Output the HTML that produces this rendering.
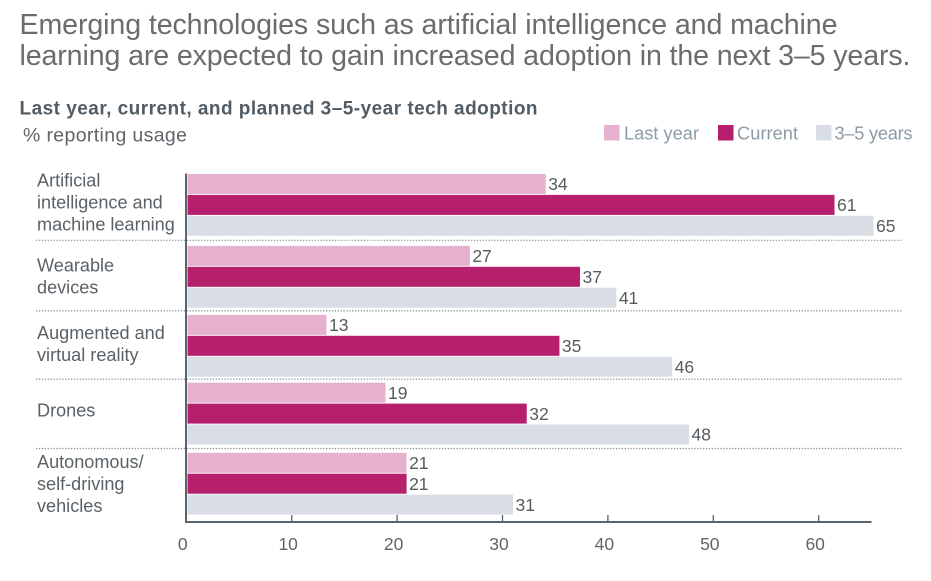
<!DOCTYPE html>
<html lang="en">
<head>
<meta charset="utf-8">
<title>Emerging technology adoption</title>
<style>
html,body{margin:0;padding:0;background:#fff;width:931px;height:581px;overflow:hidden}
svg{display:block;font-family:"Liberation Sans",Arial,sans-serif}
</style>
</head>
<body>
<svg id="chart" width="931" height="581" viewBox="0 0 931 581" xmlns="http://www.w3.org/2000/svg">
  <rect width="931" height="581" fill="#ffffff"/>
  <text x="19.5" y="34" font-size="28.6" fill="#6b6c6f" textLength="818" lengthAdjust="spacing">Emerging technologies such as artificial intelligence and machine</text>
  <text x="19.5" y="65" font-size="28.6" fill="#6b6c6f" textLength="891" lengthAdjust="spacing">learning are expected to gain increased adoption in the next 3–5 years.</text>
  <text x="19.5" y="114.5" font-size="19" font-weight="bold" fill="#515c64" textLength="518" lengthAdjust="spacing">Last year, current, and planned 3–5-year tech adoption</text>
  <text x="23" y="141.5" font-size="19.5" fill="#5f656a" textLength="164" lengthAdjust="spacing">% reporting usage</text>

  <g>
    <rect x="604" y="125" width="15.5" height="15.5" fill="#e6b1cd"/>
    <text x="624" y="139.5" font-size="18.2" fill="#8c9ca6" textLength="75" lengthAdjust="spacing">Last year</text>
    <rect x="718" y="125" width="15.5" height="15.5" fill="#b51f6b"/>
    <text x="737" y="139.5" font-size="18.2" fill="#8c9ca6" textLength="61" lengthAdjust="spacing">Current</text>
    <rect x="816" y="125" width="15.5" height="15.5" fill="#d8dee3"/>
    <text x="834.5" y="139.5" font-size="18.2" fill="#8c9ca6" textLength="78" lengthAdjust="spacing">3–5 years</text>
  </g>

  <g id="separators"></g>
  <g id="bars"></g>
  <g id="value-labels"></g>
  <g id="category-labels"></g>
  <g id="ticks"></g>

  <line x1="186" y1="173.5" x2="186" y2="522.5" stroke="#5a646c" stroke-width="2"/>
  <line x1="185" y1="522" x2="871.5" y2="522" stroke="#5a646c" stroke-width="2"/>
</svg>

<script>
// Chart data
const categories = [
  ['Artificial', 'intelligence and', 'machine learning'],
  ['Wearable', 'devices'],
  ['Augmented and', 'virtual reality'],
  ['Drones'],
  ['Autonomous/', 'self-driving', 'vehicles']
];
// Bar lengths as drawn in the picture
const lastYear = [34.1, 26.9, 13.3, 18.9, 20.9];
const current = [61.5, 37.35, 35.4, 32.3, 20.9];
const threeToFive = [65.2, 40.8, 46.1, 47.7, 31];
// Values as printed beside the bars
const lastYearLabels = [34, 27, 13, 19, 21];
const currentLabels = [61, 37, 35, 32, 21];
const threeToFiveLabels = [65, 41, 46, 48, 31];
const xTicks = [0, 10, 20, 30, 40, 50, 60];

const SVG_NS = 'http://www.w3.org/2000/svg';
const seriesList = [
  { key: 'last-year', values: lastYear, labels: lastYearLabels, fill: '#e6b1cd' },
  { key: 'current', values: current, labels: currentLabels, fill: '#b51f6b' },
  { key: '3-5-years', values: threeToFive, labels: threeToFiveLabels, fill: '#d8dee3' }
];

// Axis functions
function xScale(v) { return 186.3 + v * 10.54; }
function groupTop(i) { return 174 + i * 69.7 + [0, 2.2, 1.5, -0.4, 0][i]; }
function barTop(i, s) { return groupTop(i) + s * 20.9; }
function labelBaseline(i, n, count) {
  const mid = groupTop(i) + 31 + [3.5, 5.5, 4.2, 2.7, 6.3][i];
  return mid + (n - (count - 1) / 2) * 21.9;
}
function separatorY(i) { return 240.3 + i * 69.4 + [0, 1.2, 0, 0][i]; }
const BAR_HEIGHT = 20;

function make(tag, parent, attrs) {
  const el = document.createElementNS(SVG_NS, tag);
  Object.keys(attrs).forEach(function (k) { el.setAttribute(k, attrs[k]); });
  parent.appendChild(el);
  return el;
}

const barsG = document.getElementById('bars');


const valuesG = document.getElementById('value-labels');


const catsG = document.getElementById('category-labels');


const ticksG = document.getElementById('ticks');


const sepG = document.getElementById('separators');



categories.forEach(function (lines, i) {
  seriesList.forEach(function (series, s) {
    const y = barTop(i, s);
    const rect = make('rect', barsG, {
      x: 187.5,
      y: y,
      width: Math.max(0, xScale(series.values[i]) - 187.5),
      height: BAR_HEIGHT,
      fill: series.fill
    });
    
    

    const label = make('text', valuesG, {
      x: xScale(series.values[i]) + 2.5,
      y: y + BAR_HEIGHT - 3.8,
      'font-size': 17.5,
      fill: '#565b60'
    });
    label.textContent = series.labels[i];
    
    
  });

  lines.forEach(function (line, n) {
    const t = make('text', catsG, {
      x: 37,
      y: labelBaseline(i, n, lines.length),
      'font-size': 18.1,
      fill: '#5a6268'
    });
    t.textContent = line;
    
    
  });

  if (i < categories.length - 1) {
    const sep = make('line', sepG, {
      x1: 36,
      x2: 903,
      y1: separatorY(i),
      y2: separatorY(i),
      stroke: '#8a8f93',
      'stroke-width': 1.2,
      'stroke-dasharray': '1.3 1.6'
    });
    
    
  }
});

xTicks.forEach(function (v) {
  const px = xScale(v);
  if (v !== 0) {
    const tick = make('line', ticksG, {
      x1: px, x2: px, y1: 515, y2: 522,
      stroke: '#5a646c',
      'stroke-width': 1.3
    });
    
    
  }
  const label = make('text', ticksG, {
    x: px - 3.5,
    y: 550,
    'font-size': 17.5,
    fill: '#5f6469',
    'text-anchor': 'middle'
  });
  label.textContent = v;
  
  
});
</script>
</body>
</html>
